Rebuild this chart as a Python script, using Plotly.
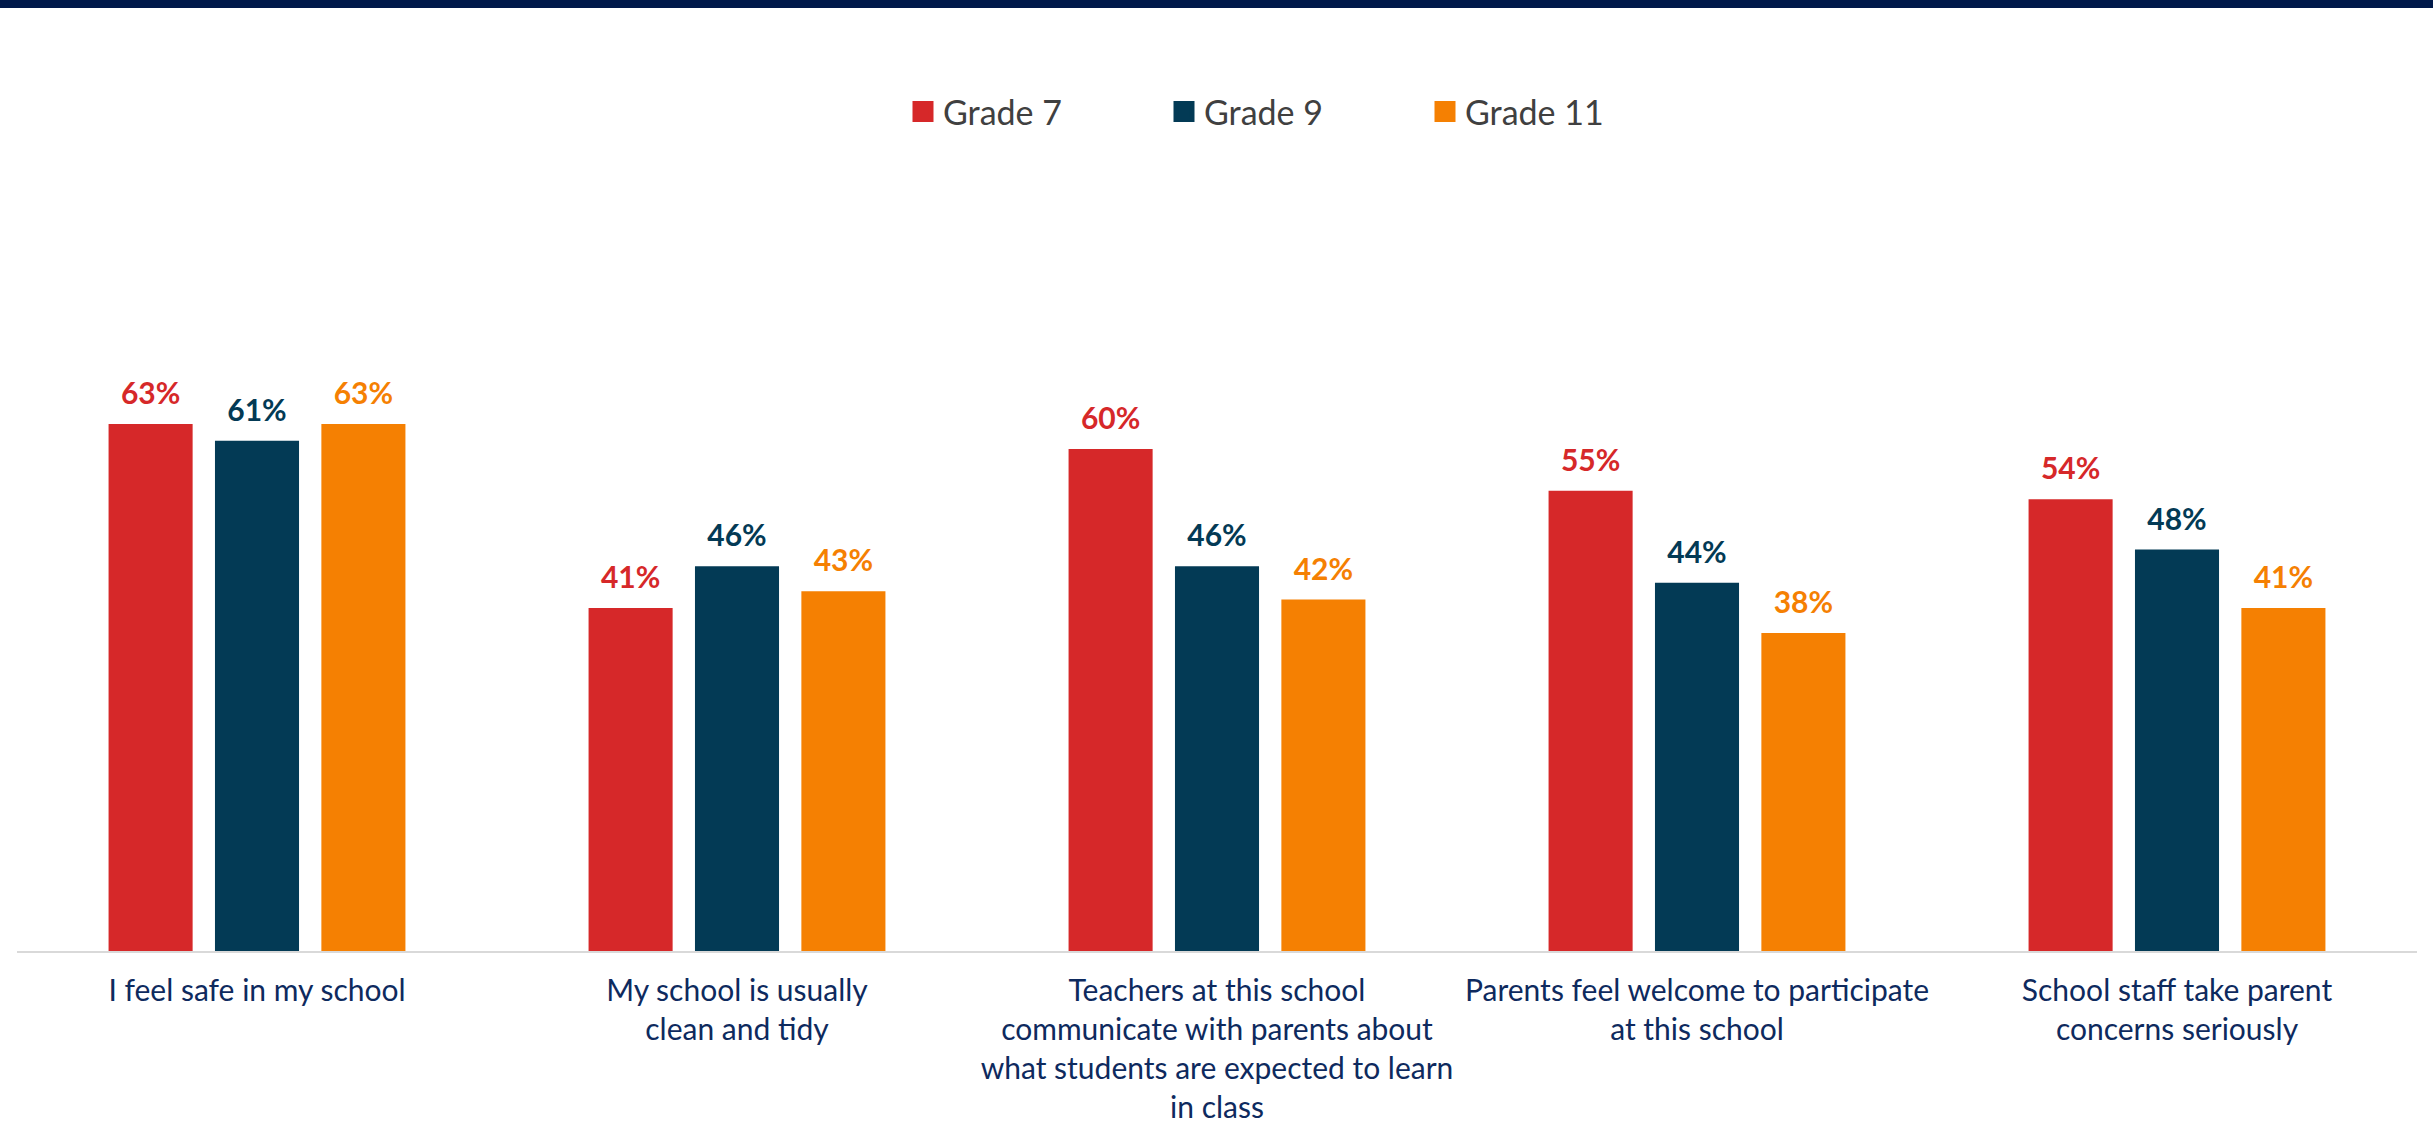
import plotly.graph_objects as go

categories = [
    "I feel safe in my school",
    "My school is usually<br>clean and tidy",
    "Teachers at this school<br>communicate with parents about<br>what students are expected to learn<br>in class",
    "Parents feel welcome to participate<br>at this school",
    "School staff take parent<br>concerns seriously",
]
series_names = ["Grade 7", "Grade 9", "Grade 11"]
grade7 = [63, 41, 60, 55, 54]
grade9 = [61, 46, 46, 44, 48]
grade11 = [63, 43, 42, 38, 41]

colors = ["#D62829", "#033A55", "#F58002"]
FONT = "Lato"

W, H = 2433, 1143
ml, mr, mt, mb = 17, 16, 198, 192
plot_w = W - ml - mr
plot_h = H - mt - mb
GAP = 0.335

fig = go.Figure()
for name, vals, col in zip(series_names, [grade7, grade9, grade11], colors):
    # bars
    fig.add_trace(go.Bar(
        x=categories, y=vals, name=name,
        marker=dict(color=col, line=dict(width=0)),
        offsetgroup=name, alignmentgroup="bars",
        showlegend=False, legendgroup=name, hoverinfo="skip",
    ))
    # value labels above the bars (grouped scatter so they align with the bars)
    fig.add_trace(go.Scatter(
        x=categories, y=vals, mode="markers+text", name=name,
        text=[f"{v}%" for v in vals], textposition="top center",
        textfont=dict(family=FONT, size=30, color=col, weight="bold"),
        marker=dict(size=18, color="rgba(0,0,0,0)", line=dict(width=0)),
        offsetgroup=name, alignmentgroup="labels",
        cliponaxis=False, showlegend=False, legendgroup=name, hoverinfo="skip",
    ))
    # legend-only entry with a larger square swatch
    fig.add_trace(go.Scatter(
        x=[None], y=[None], mode="markers", name=name, legendgroup=name,
        offsetgroup=name, alignmentgroup="labels",
        marker=dict(symbol="square", size=16, color=col, line=dict(width=5, color=col)),
        showlegend=True, hoverinfo="skip",
    ))

fig.update_layout(
    width=W, height=H,
    margin=dict(l=ml, r=mr, t=mt, b=mb, pad=0),
    paper_bgcolor="white", plot_bgcolor="white",
    barmode="group", bargap=GAP, bargroupgap=0.21,
    scattermode="group", scattergap=GAP,
    font=dict(family=FONT, color="#404040"),
    showlegend=True,
    legend=dict(
        orientation="h", x=(903 - ml) / plot_w, xanchor="left",
        y=1 + (mt - 112) / plot_h, yanchor="middle",
        font=dict(family=FONT, size=34, color="#404040"),
        entrywidth=216, entrywidthmode="pixels",
        bgcolor="rgba(0,0,0,0)", itemclick=False, itemdoubleclick=False,
    ),
    xaxis=dict(
        showline=True, linecolor="#D9D9D9", linewidth=2,
        showgrid=False, zeroline=False, ticks="",
        tickfont=dict(family=FONT, size=30, color="#0E2A5E"),
        tickangle=0, automargin=False, ticklabelstandoff=12,
    ),
    yaxis=dict(
        range=[0, 90], visible=False, showgrid=False, zeroline=False,
    ),
    shapes=[dict(
        type="rect", xref="paper", yref="paper",
        x0=-ml / plot_w - 0.01, x1=1 + mr / plot_w + 0.01,
        y0=1 + (mt - 8) / plot_h, y1=1 + mt / plot_h + 0.01,
        fillcolor="#00194A", line=dict(width=0), layer="above",
    )],
)

fig.write_html(
    "out.html",
    config={"displayModeBar": False, "staticPlot": True},
    post_script="document.body.style.margin='0px'; document.body.style.overflow='hidden';",
)
